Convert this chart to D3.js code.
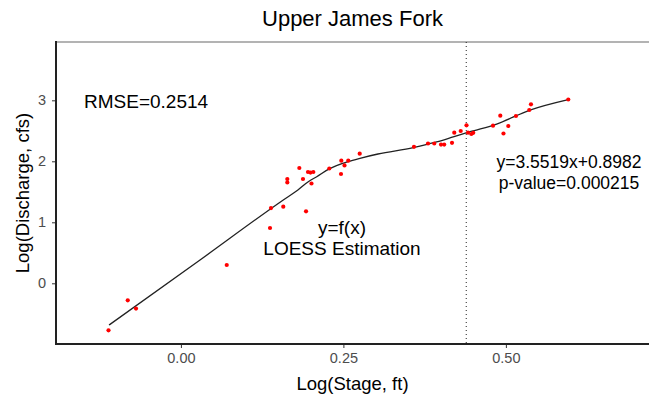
<!DOCTYPE html>
<html>
<head>
<meta charset="utf-8">
<script src="https://cdn.jsdelivr.net/npm/d3@7"></script>
<style>
  html, body { margin: 0; padding: 0; background: #fff; }
  svg { display: block; font-family: "Liberation Sans", Arial, Helvetica, sans-serif; }
</style>
</head>
<body>
<svg id="chart" width="649" height="394"></svg>
<script>
// Observed log stage (ft) and log discharge (cfs)
const logStage = [
  -0.1114, -0.0818, -0.0691, 0.0705, 0.1371, 0.1386, 0.1575, 0.1925,
  0.1637, 0.1637, 0.1822, 0.1878, 0.1955, 0.1994, 0.2037, 0.2009,
  0.2283, 0.2463, 0.2468, 0.2517, 0.2575, 0.2751, 0.3586, 0.3802,
  0.3898, 0.4002, 0.4051, 0.4171, 0.4206, 0.4305, 0.4394, 0.4417,
  0.4468, 0.4498, 0.4802, 0.4914, 0.5037, 0.4963, 0.5155, 0.5360,
  0.5386, 0.5960
];
const logDischarge = [
  -0.770, -0.279, -0.415, 0.300, 0.907, 1.234, 1.256, 1.180,
  1.710, 1.654, 1.890, 1.710, 1.825, 1.816, 1.825, 1.636,
  1.882, 1.792, 2.010, 1.933, 2.010, 2.125, 2.238, 2.292,
  2.292, 2.275, 2.275, 2.303, 2.470, 2.497, 2.590, 2.470,
  2.448, 2.467, 2.584, 2.748, 2.579, 2.456, 2.743, 2.841,
  2.934, 3.013
];

// LOESS fitted curve
const loessX = [-0.1106, 0.0294, 0.1575, 0.1800, 0.1960, 0.2090, 0.2283, 0.2571,
  0.2755, 0.3032, 0.3575, 0.3935, 0.4190, 0.4448, 0.4858, 0.5370, 0.5960];
const loessY = [-0.684, 0.382, 1.366, 1.530, 1.666, 1.748, 1.877, 1.995,
  2.050, 2.120, 2.225, 2.318, 2.400, 2.485, 2.611, 2.841, 3.013];

// Breakpoint in stage
const breakStage = 0.439;

const xTicks = [0, 0.25, 0.5];
const xTickLabels = ["0.00", "0.25", "0.50"];
const yTicks = [0, 1, 2, 3];
const yTickLabels = ["0", "1", "2", "3"];

const titleText = "Upper James Fork";
const xTitle = "Log(Stage, ft)";
const yTitle = "Log(Discharge, cfs)";
const rmseText = "RMSE=0.2514";
const loessLabel = ["y=f(x)", "LOESS Estimation"];
const fitLabel = ["y=3.5519x+0.8982", "p-value=0.000215"];

const W = 649, H = 394;
const margin = { left: 56, right: 0, top: 42, bottom: 50 };
const svg = d3.select("#chart");

const x = d3.scaleLinear().domain([-0.1922, 0.7202]).range([margin.left, W - margin.right]);
const y = d3.scaleLinear().domain([-0.995, 3.956]).range([H - margin.bottom, margin.top]);

// top panel border
svg.append("line")
  .attr("x1", margin.left).attr("x2", W)
  .attr("y1", margin.top).attr("y2", margin.top)
  .attr("stroke", "#b3b3b3").attr("stroke-width", 2);

// breakpoint line
svg.append("line")
  .attr("x1", x(breakStage)).attr("x2", x(breakStage))
  .attr("y1", margin.top).attr("y2", H - margin.bottom)
  .attr("stroke", "#222").attr("stroke-width", 1)
  .attr("stroke-dasharray", "1,3");

// axes
const xAxis = d3.axisBottom(x).tickValues(xTicks)
  .tickFormat((d, i) => xTickLabels[i]).tickSize(4).tickPadding(5);
const yAxis = d3.axisLeft(y).tickValues(yTicks)
  .tickFormat((d, i) => yTickLabels[i]).tickSize(4).tickPadding(6);

const gx = svg.append("g").attr("transform", `translate(0,${H - margin.bottom})`).call(xAxis);
const gy = svg.append("g").attr("transform", `translate(${margin.left},0)`).call(yAxis);
[gx, gy].forEach(g => {
  g.select(".domain").remove();
  g.selectAll(".tick line").attr("stroke", "#333").attr("stroke-width", 1);
  g.selectAll(".tick text").attr("fill", "#4d4d4d").style("font-size", "14.5px")
    .style("font-family", "'Liberation Sans', Arial, sans-serif");
});

// axis lines
svg.append("line")
  .attr("x1", margin.left).attr("x2", W)
  .attr("y1", H - margin.bottom).attr("y2", H - margin.bottom)
  .attr("stroke", "#222").attr("stroke-width", 2);
svg.append("line")
  .attr("x1", margin.left).attr("x2", margin.left)
  .attr("y1", margin.top - 1).attr("y2", H - margin.bottom + 1)
  .attr("stroke", "#222").attr("stroke-width", 2);

// LOESS curve
const curveData = loessX.map((v, i) => [v, loessY[i]]);
svg.append("path")
  .datum(curveData)
  .attr("fill", "none").attr("stroke", "#222").attr("stroke-width", 1.3)
  .attr("d", d3.line().x(d => x(d[0])).y(d => y(d[1])).curve(d3.curveMonotoneX));

// observations
svg.append("g").selectAll("circle")
  .data(logStage.map((v, i) => [v, logDischarge[i]]))
  .join("circle")
  .attr("cx", d => x(d[0])).attr("cy", d => y(d[1]))
  .attr("r", 2.1).attr("fill", "#ff0000");

// titles
const cx = (margin.left + W) / 2;
svg.append("text").attr("x", cx).attr("y", 26).attr("text-anchor", "middle")
  .style("font-size", "22px").attr("fill", "#000").text(titleText);
svg.append("text").attr("x", cx).attr("y", 390).attr("text-anchor", "middle")
  .style("font-size", "18.5px").attr("fill", "#000").text(xTitle);
svg.append("text").attr("transform", `translate(29,${(margin.top + H - margin.bottom) / 2}) rotate(-90)`)
  .attr("text-anchor", "middle")
  .style("font-size", "18.5px").attr("fill", "#000").text(yTitle);

// annotations
svg.append("text").attr("x", 84).attr("y", 108)
  .style("font-size", "19px").attr("fill", "#000").text(rmseText);
svg.append("text").attr("x", 342).attr("y", 234).attr("text-anchor", "middle")
  .style("font-size", "19px").text(loessLabel[0]);
svg.append("text").attr("x", 342).attr("y", 255).attr("text-anchor", "middle")
  .style("font-size", "19px").text(loessLabel[1]);
svg.append("text").attr("x", 569).attr("y", 168).attr("text-anchor", "middle")
  .style("font-size", "17.5px").text(fitLabel[0]);
svg.append("text").attr("x", 569).attr("y", 189).attr("text-anchor", "middle")
  .style("font-size", "17.5px").text(fitLabel[1]);
</script>
</body>
</html>
